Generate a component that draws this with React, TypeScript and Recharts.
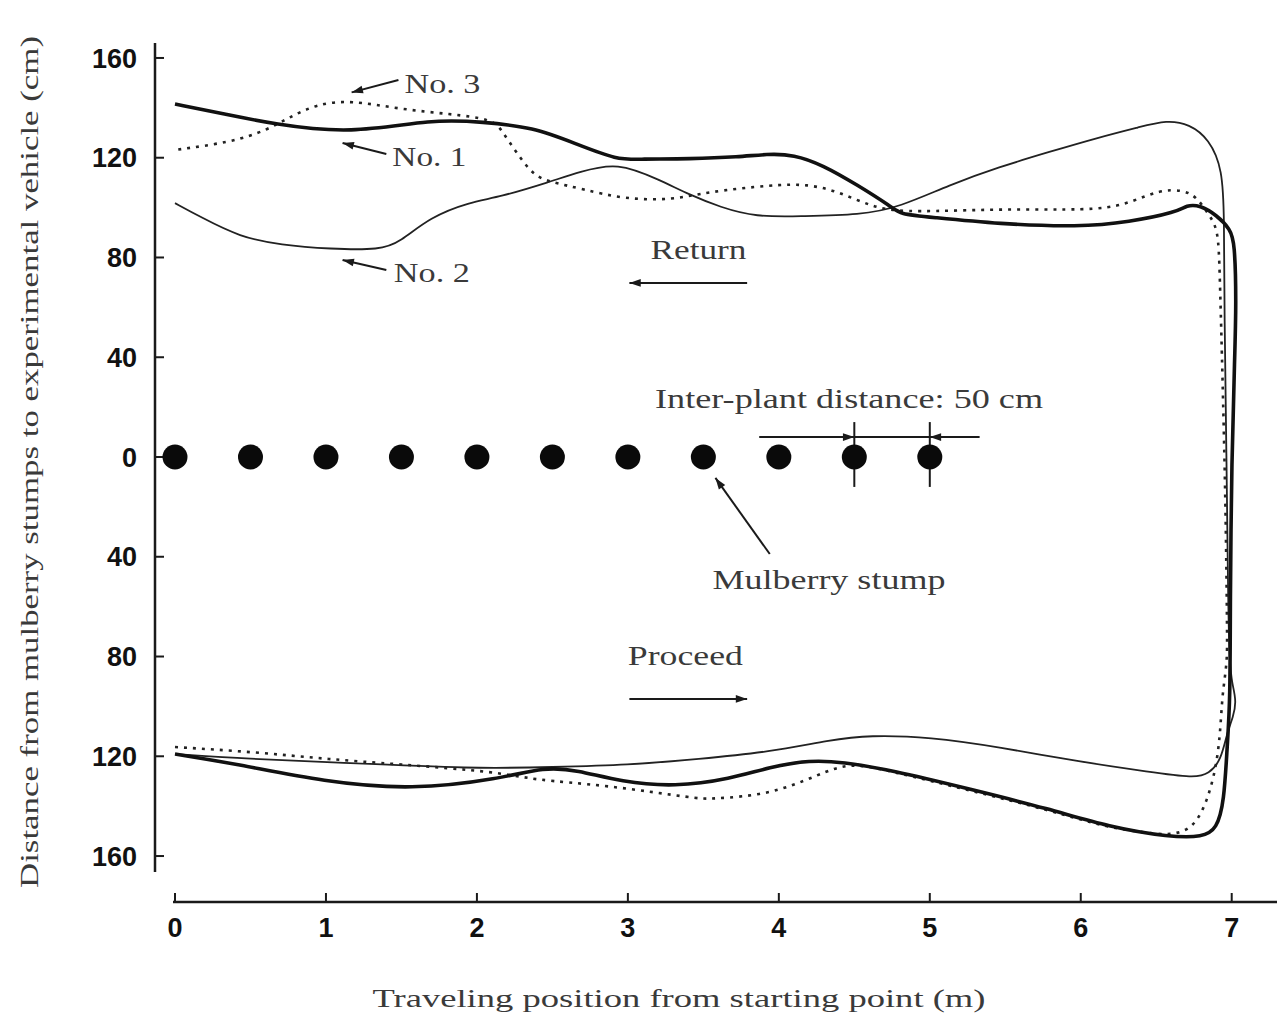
import {
  ComposedChart,
  Line,
  Scatter,
  XAxis,
  YAxis,
  ReferenceLine,
  ReferenceDot,
  Label,
} from 'recharts';

// traveling position (m), lateral distance (cm); proceed is negative, return positive
const no1Track = [
  [0, -119.1], [0.41, -123.1], [0.99, -130.3], [1.57, -133.5], [2.15, -129.1],
  [2.45, -124.3], [2.66, -125.5], [2.96, -130.3], [3.31, -132.3], [3.68, -129.1],
  [3.94, -124.3], [4.21, -121.5], [4.42, -122.3], [4.74, -125.5], [5.26, -133.1],
  [5.79, -141.1], [6.19, -148.4], [6.59, -152.4], [6.81, -152.4], [6.9, -149.2],
  [6.95, -138.3], [6.97, -115.5], [6.99, -98.2], [6.99, -58], [7.0, 0],
  [7.02, 40], [7.03, 62.1], [7.02, 86.2], [6.99, 91.4], [6.9, 97.0],
  [6.79, 101.0], [6.7, 101.0], [6.64, 98.2], [6.32, 94.2], [5.99, 92.2],
  [5.46, 93.4], [5.0, 96.2], [4.8, 97.4], [4.75, 100.2], [4.52, 109.1],
  [4.29, 117.1], [4.1, 121.3], [3.92, 121.5], [3.74, 120.3], [3.41, 119.5],
  [3.08, 119.5], [2.93, 119.1], [2.66, 125.5], [2.37, 132.3], [2.04, 134.3],
  [1.71, 135.5], [1.16, 129.5], [0.65, 133.5], [0.33, 137.5], [0, 141.5],
];

const no2Track = [
  [0, -119.1], [0.5, -121.1], [1.0, -122.3], [2.0, -125.1], [2.5, -124.3],
  [3.0, -123.5], [3.47, -121.1], [3.94, -118.3], [4.34, -113.5], [4.6, -111.5],
  [5.0, -112.3], [5.46, -116.3], [6.0, -122.3], [6.46, -126.3], [6.75, -128.7],
  [6.85, -127.1], [6.93, -121.5], [6.97, -110.3], [7.01, -104.2], [7.03, -98.2],
  [7.01, -92.2], [6.98, -84.2], [6.97, -18], [6.95, 62.1], [6.95, 95.4],
  [6.94, 115.5], [6.85, 127.5], [6.72, 133.5], [6.57, 135.1], [6.39, 132.3],
  [6.13, 128.3], [5.79, 122.3], [5.46, 116.3], [5.13, 109.1], [4.8, 100.2],
  [4.54, 97.0], [4.14, 96.6], [3.85, 96.2], [3.61, 100.2], [3.41, 105.1],
  [3.21, 111.1], [2.93, 118.3], [2.68, 114.3], [2.48, 110.3], [2.15, 104.2],
  [1.95, 102.2], [1.69, 96.2], [1.49, 86.2], [1.36, 83.0], [1.03, 83.4],
  [0.7, 85.0], [0.43, 88.2], [0.17, 96.2], [0, 101.8],
];

const no3Track = [
  [0, -116.3], [0.53, -118.3], [1.0, -121.1], [1.46, -123.1], [2.15, -126.3],
  [2.37, -129.5], [2.85, -131.5], [3.47, -137.1], [3.54, -137.1], [3.94, -135.5],
  [4.26, -127.5], [4.47, -122.3], [4.74, -126.0], [5.26, -133.6], [5.79, -141.6],
  [6.19, -148.8], [6.46, -150.8], [6.59, -151.6], [6.75, -149.2], [6.85, -136.3],
  [6.91, -120.3], [6.93, -104.2], [6.94, -94.2], [6.97, -82.2], [6.97, -71.4],
  [6.96, -20], [6.94, 30], [6.92, 75.4], [6.91, 91.4], [6.85, 97.0],
  [6.77, 104.2], [6.68, 107.1], [6.52, 107.1], [6.34, 102.2], [6.13, 99.0],
  [5.68, 99.4], [5.25, 99.0], [4.82, 98.2], [4.62, 100.2], [4.4, 106.3],
  [4.19, 109.5], [3.96, 109.1], [3.52, 106.3], [3.3, 103.0], [2.97, 103.4],
  [2.7, 107.5], [2.48, 110.3], [2.37, 113.1], [2.26, 122.3], [2.17, 130.3],
  [2.11, 135.5], [1.82, 137.5], [1.49, 139.5], [1.16, 143.1], [0.94, 141.5],
  [0.76, 136.3], [0.61, 131.1], [0.38, 126.3], [0, 123.1],
];

const stumpPositions = [0, 0.5, 1, 1.5, 2, 2.5, 3, 3.5, 4, 4.5, 5];

const xTicks = [0, 1, 2, 3, 4, 5, 6, 7];
const yTicks = [-160, -120, -80, -40, 0, 40, 80, 120, 160];

const toPoints = (arr: number[][]) => arr.map(([x, y]) => ({ x, y }));
const no1 = toPoints(no1Track);
const no2 = toPoints(no2Track);
const no3 = toPoints(no3Track);
const stumps = stumpPositions.map((x) => ({ x, y: 0 }));

const SERIF = "'Liberation Serif', 'Times New Roman', serif";
const SANS = "'Liberation Sans', Arial, sans-serif";
const INK = '#1a1a1a';
const TEXT = '#3a3a3a';

const Stump = (p: any) => <circle cx={p.cx} cy={p.cy} r={12.5} fill="#0a0a0a" />;

const arrow = (p: any) => {
  const { x1, y1, x2, y2 } = p;
  const a = Math.atan2(y2 - y1, x2 - x1);
  const L = 12;
  const w = 0.33;
  const ax = x2 - L * Math.cos(a - w);
  const ay = y2 - L * Math.sin(a - w);
  const bx = x2 - L * Math.cos(a + w);
  const by = y2 - L * Math.sin(a + w);
  return (
    <g>
      <line x1={x1} y1={y1} x2={x2} y2={y2} stroke={INK} strokeWidth={2} />
      <polygon points={`${x2},${y2} ${ax},${ay} ${bx},${by}`} fill={INK} />
    </g>
  );
};

const plain = (p: any) => (
  <line x1={p.x1} y1={p.y1} x2={p.x2} y2={p.y2} stroke={INK} strokeWidth={2} />
);

const textAt = (label: string, len: number, size = 27) => (p: any) => (
  <text
    x={p.cx}
    y={p.cy}
    dominantBaseline="central"
    fontFamily={SERIF}
    fontSize={size}
    fill={TEXT}
    textLength={len}
    lengthAdjust="spacingAndGlyphs"
  >
    {label}
  </text>
);

export default function App() {
  return (
    <div style={{ position: 'absolute', left: 0, top: 0, width: 1277, height: 1021, background: '#fff' }}>
      <ComposedChart width={1277} height={1021} margin={{ top: 43, right: 0, left: 55, bottom: 59 }}>
        <XAxis
          type="number"
          dataKey="x"
          domain={[0, 7.3]}
          ticks={xTicks}
          interval={0}
          padding={{ left: 20, right: 0 }}
          height={60}
          axisLine={{ stroke: INK, strokeWidth: 2.5, strokeDasharray: '0 18 1200' }}
          tickLine={{ stroke: INK, strokeWidth: 2 }}
          tickSize={-9}
          tickMargin={25}
          tick={{ fill: '#111', fontFamily: SANS, fontWeight: 700, fontSize: 27 }}
        >
          <Label
            content={() => (
              <text
                x={679}
                y={998}
                textAnchor="middle"
                dominantBaseline="central"
                fontFamily={SERIF}
                fontSize={26}
                fill={TEXT}
                textLength={613}
                lengthAdjust="spacingAndGlyphs"
              >
                Traveling position from starting point (m)
              </text>
            )}
          />
        </XAxis>
        <YAxis
          type="number"
          dataKey="y"
          domain={[-166, 166]}
          ticks={yTicks}
          interval={0}
          padding={{ top: 0, bottom: 31 }}
          width={100}
          tickFormatter={(v: number) => String(Math.abs(v))}
          axisLine={{ stroke: INK, strokeWidth: 2.5, strokeDasharray: '829 200' }}
          tickLine={{ stroke: INK, strokeWidth: 2 }}
          tickSize={-9}
          tickMargin={27}
          tick={{ fill: '#111', fontFamily: SANS, fontWeight: 700, fontSize: 27 }}
        >
          <Label
            content={() => (
              <text
                transform="translate(29,462) rotate(-90)"
                textAnchor="middle"
                dominantBaseline="central"
                fontFamily={SERIF}
                fontSize={26}
                fill={TEXT}
                textLength={852}
                lengthAdjust="spacingAndGlyphs"
              >
                Distance from mulberry stumps to experimental vehicle (cm)
              </text>
            )}
          />
        </YAxis>

        <Line data={no2} dataKey="y" type="basis" stroke="#222" strokeWidth={1.8} dot={false} activeDot={false} isAnimationActive={false} />
        <Line data={no3} dataKey="y" type="basis" stroke="#222" strokeWidth={2.6} strokeDasharray="3 6" dot={false} activeDot={false} isAnimationActive={false} />
        <Line data={no1} dataKey="y" type="basis" stroke="#111" strokeWidth={3.6} dot={false} activeDot={false} isAnimationActive={false} />

        <Scatter data={stumps} dataKey="y" shape={Stump} isAnimationActive={false} />

        {/* series labels */}
        <ReferenceLine segment={[{ x: 1.48, y: 151.2 }, { x: 1.17, y: 146.2 }]} shape={arrow} />
        <ReferenceLine segment={[{ x: 1.4, y: 121.5 }, { x: 1.11, y: 125.9 }]} shape={arrow} />
        <ReferenceLine segment={[{ x: 1.4, y: 75 }, { x: 1.11, y: 79 }]} shape={arrow} />
        <ReferenceDot x={1.52} y={149.6} shape={textAt('No. 3', 76)} />
        <ReferenceDot x={1.44} y={120.3} shape={textAt('No. 1', 74)} />
        <ReferenceDot x={1.45} y={73.8} shape={textAt('No. 2', 76)} />

        {/* direction of travel */}
        <ReferenceDot x={3.15} y={83} shape={textAt('Return', 96)} />
        <ReferenceLine segment={[{ x: 3.79, y: 69.8 }, { x: 3.01, y: 69.8 }]} shape={arrow} />
        <ReferenceDot x={3.0} y={-79.8} shape={textAt('Proceed', 115)} />
        <ReferenceLine segment={[{ x: 3.01, y: -97 }, { x: 3.79, y: -97 }]} shape={arrow} />

        {/* inter-plant distance */}
        <ReferenceDot x={3.18} y={23.3} shape={textAt('Inter-plant distance: 50 cm', 388)} />
        <ReferenceLine segment={[{ x: 3.87, y: 8 }, { x: 4.5, y: 8 }]} shape={arrow} />
        <ReferenceLine segment={[{ x: 4.5, y: 8 }, { x: 5.0, y: 8 }]} shape={plain} />
        <ReferenceLine segment={[{ x: 5.33, y: 8 }, { x: 5.0, y: 8 }]} shape={arrow} />
        <ReferenceLine segment={[{ x: 4.5, y: 14 }, { x: 4.5, y: -12 }]} shape={plain} />
        <ReferenceLine segment={[{ x: 5.0, y: 14 }, { x: 5.0, y: -12 }]} shape={plain} />

        {/* stump label */}
        <ReferenceLine segment={[{ x: 3.94, y: -38.9 }, { x: 3.58, y: -8.4 }]} shape={arrow} />
        <ReferenceDot x={3.56} y={-49.3} shape={textAt('Mulberry stump', 233)} />
      </ComposedChart>
    </div>
  );
}
